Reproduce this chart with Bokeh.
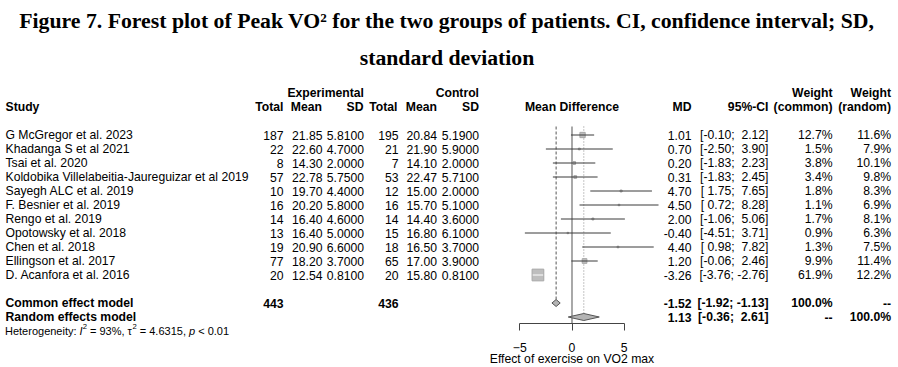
import math
from bokeh.plotting import figure
from bokeh.models import Range1d, LinearAxis, FixedTicker
from bokeh.core.properties import value
from bokeh.embed import file_html
from bokeh.resources import INLINE

# ---------------- data ----------------
title_lines = [
    "Figure 7. Forest plot of Peak VO\u00b2 for the two groups of patients. CI, confidence interval; SD,",
    "standard deviation",
]
studies = [
    "G McGregor et al. 2023",
    "Khadanga S et al 2021",
    "Tsai et al. 2020",
    "Koldobika Villelabeitia-Jaureguizar et al 2019",
    "Sayegh ALC et al. 2019",
    "F. Besnier et al. 2019",
    "Rengo et al. 2019",
    "Opotowsky et al. 2018",
    "Chen et al. 2018",
    "Ellingson et al. 2017",
    "D. Acanfora et al. 2016",
]
exp_n = [187, 22, 8, 57, 10, 16, 14, 13, 19, 77, 20]
exp_mean = [21.85, 22.60, 14.30, 22.78, 19.70, 20.20, 16.40, 16.40, 20.90, 18.20, 12.54]
exp_sd = [5.81, 4.70, 2.00, 5.75, 4.40, 5.80, 4.60, 5.00, 6.60, 3.70, 0.81]
ctl_n = [195, 21, 7, 53, 12, 16, 14, 15, 18, 65, 20]
ctl_mean = [20.84, 21.90, 14.10, 22.47, 15.00, 15.70, 14.40, 16.80, 16.50, 17.00, 15.80]
ctl_sd = [5.19, 5.90, 2.00, 5.71, 2.00, 5.10, 3.60, 6.10, 3.70, 3.90, 0.81]
md = [1.01, 0.70, 0.20, 0.31, 4.70, 4.50, 2.00, -0.40, 4.40, 1.20, -3.26]
ci_lo = [-0.10, -2.50, -1.83, -1.83, 1.75, 0.72, -1.06, -4.51, 0.98, -0.06, -3.76]
ci_hi = [2.12, 3.90, 2.23, 2.45, 7.65, 8.28, 5.06, 3.71, 7.82, 2.46, -2.76]
w_common = [12.7, 1.5, 3.8, 3.4, 1.8, 1.1, 1.7, 0.9, 1.3, 9.9, 61.9]
w_random = [11.6, 7.9, 10.1, 9.8, 8.3, 6.9, 8.1, 6.3, 7.5, 11.4, 12.2]
model_names = ["Common effect model", "Random effects model"]
model_md = [-1.52, 1.13]
model_lo = [-1.92, -0.36]
model_hi = [-1.13, 2.61]
model_w_common = ["100.0%", "--"]
model_w_random = ["--", "100.0%"]
total_exp = 443
total_ctl = 436
het_i2 = "93%"
het_tau2 = "4.6315"
het_p = "< 0.01"
ticks = [-5, 0, 5]
axis_label = "Effect of exercise on VO2 max"

# ---------------- layout ----------------
W, H = 898, 367
ZERO_PX, PX_PER_UNIT = 571.5, 10.45
ROW0_PX, ROW_PX = 134.5, 14.0


def row_of(ypx):
    return (ypx - ROW0_PX) / ROW_PX


p = figure(width=W, height=H,
           x_range=Range1d((0 - ZERO_PX) / PX_PER_UNIT, (W - ZERO_PX) / PX_PER_UNIT),
           y_range=Range1d(row_of(H), row_of(0)),
           x_axis_type=None, y_axis_type=None,
           output_backend="svg", toolbar_location=None,
           min_border=0, outline_line_color=None)
p.extra_x_ranges = {"px": Range1d(0, W)}
p.background_fill_color = "white"
p.border_fill_color = "white"

SANS = value("Liberation Sans")
SERIF = value("Liberation Serif")
FS = "12.2px"


def txt(xs, ys, texts, align="left", style="normal", size=FS, font=SANS):
    p.text(x=xs, y=ys, text=texts, x_range_name="px", text_align=align,
           text_baseline="middle", text_font=font, text_font_size=size,
           text_font_style=style, text_color="black")


n = len(studies)
rows = list(range(n))

# title
txt([446.5], [row_of(20)], [title_lines[0]], "center", "bold", "21.75px", SERIF)
txt([446.5], [row_of(57)], [title_lines[1]], "center", "bold", "21.75px", SERIF)

# headers
h1, h2 = -3, -2
txt([363.5, 478.5], [h1, h1], ["Experimental", "Control"], "right", "bold")
txt([832, 890.5], [h1, h1], ["Weight", "Weight"], "right", "bold")
txt([5], [h2], ["Study"], "left", "bold")
txt([283, 321.5, 363, 397, 436.5, 478.5, 691, 768, 832, 890.5], [h2] * 10,
    ["Total", "Mean", "SD", "Total", "Mean", "SD", "MD", "95%-CI", "(common)", "(random)"],
    "right", "bold")
txt([571.5], [h2], ["Mean Difference"], "center", "bold")


def ci_str(a, b):
    return ("[" + f"{a:5.2f}".replace(" ", "\u00a0") + ";\u00a0"
            + f"{b:5.2f}".replace(" ", "\u00a0") + "]")


# study rows
txt([5] * n, rows, studies)
txt([283] * n, rows, [str(v) for v in exp_n], "right")
txt([322] * n, rows, [f"{v:.2f}" for v in exp_mean], "right")
txt([363.5] * n, rows, [f"{v:.4f}" for v in exp_sd], "right")
txt([398] * n, rows, [str(v) for v in ctl_n], "right")
txt([436.5] * n, rows, [f"{v:.2f}" for v in ctl_mean], "right")
txt([478.5] * n, rows, [f"{v:.4f}" for v in ctl_sd], "right")
txt([691] * n, rows, [f"{v:.2f}" for v in md], "right")
txt([768] * n, rows, [ci_str(a, b) for a, b in zip(ci_lo, ci_hi)], "right")
txt([832] * n, rows, [f"{v:.1f}%" for v in w_common], "right")
txt([890.5] * n, rows, [f"{v:.1f}%" for v in w_random], "right")

# model rows
mrows = [n + 1, n + 2]
txt([5, 5], mrows, model_names, "left", "bold")
txt([283, 398], [mrows[0]] * 2, [str(total_exp), str(total_ctl)], "right", "bold")
txt([691] * 2, mrows, [f"{v:.2f}" for v in model_md], "right", "bold")
txt([768] * 2, mrows, [ci_str(a, b) for a, b in zip(model_lo, model_hi)], "right", "bold")
txt([832] * 2, mrows, model_w_common, "right", "bold")
txt([890.5] * 2, mrows, model_w_random, "right", "bold")

# heterogeneity line (pieces placed with Arial/Liberation Sans advance widths)
AW = {" ": 278, "H": 722, "e": 556, "t": 278, "r": 333, "o": 556, "g": 556, "n": 556,
      "i": 222, "y": 500, ":": 278, "I": 278, "=": 584, "%": 889, ",": 278, ".": 278,
      "\u03c4": 440, "p": 556, "<": 584}
for d in "0123456789":
    AW[d] = 556


def width(s, size):
    return sum(AW.get(c, 556) for c in s) * size / 1000.0


HS = 11.0
SS = 7.7
hr = n + 3
pieces = [("Heterogeneity: ", "normal", HS, 0), ("I", "italic", HS, 0), ("2", "normal", SS, 1),
          (" = " + het_i2 + ", \u03c4", "normal", HS, 0), ("2", "normal", SS, 1),
          (" = " + het_tau2 + ", ", "normal", HS, 0), ("p", "italic", HS, 0),
          (" " + het_p, "normal", HS, 0)]
cx = 4.5
for s, st, sz, is_sup in pieces:
    lead = len(s) - len(s.lstrip(" "))
    x0 = cx + width(s[:lead], sz)
    yy = hr - 0.3 if is_sup else hr
    txt([x0], [yy], [s.strip(" ")], "left", st, f"{sz}px")
    cx += width(s, sz)

# ---------------- forest ----------------
AXIS_ROW = row_of(322.7)
TOP_ROW = row_of(126)
DH = 0.25
px_unit = PX_PER_UNIT

# reference lines
p.segment(x0=[0], y0=[TOP_ROW], x1=[0], y1=[AXIS_ROW], line_color="#7a7a7a", line_width=1.3)
p.segment(x0=[model_md[0]], y0=[TOP_ROW], x1=[model_md[0]], y1=[mrows[0] - DH],
          line_color="#555555", line_width=1, line_dash="3 2")
p.segment(x0=[model_md[1]], y0=[TOP_ROW], x1=[model_md[1]], y1=[mrows[1] - DH],
          line_color="#8a8a8a", line_width=1, line_dash="1 2")

sizes = [1.49 * math.sqrt(w) for w in w_common]
p.scatter(x=md, y=rows, marker="square", size=sizes, fill_color="#bebebe", line_color="#a8a8a8")
line_cols = ["white" if (b - a) * px_unit < s else "#3a3a3a" for a, b, s in zip(ci_lo, ci_hi, sizes)]
p.segment(x0=ci_lo, y0=rows, x1=ci_hi, y1=rows, line_color=line_cols, line_width=1)

# diamonds
xs = [[lo, m, hi, m] for lo, m, hi in zip(model_lo, model_md, model_hi)]
ys = [[r, r - DH, r, r + DH] for r in mrows]
p.patches(xs=xs, ys=ys, fill_color="#b4b4b4", line_color="#555555", line_width=1)

# axis
axis = LinearAxis(fixed_location=AXIS_ROW, bounds=(min(ticks), max(ticks)),
                  ticker=FixedTicker(ticks=ticks), axis_label=axis_label)
axis.minor_tick_line_color = None
axis.major_tick_out = 7
axis.major_tick_in = 0
axis.axis_line_color = "#444444"
axis.major_tick_line_color = "#444444"
axis.major_label_standoff = 13
axis.major_label_text_font = "Liberation Sans"
axis.major_label_text_font_size = FS
axis.major_label_text_color = "black"
axis.axis_label_text_font = "Liberation Sans"
axis.axis_label_text_font_size = FS
axis.axis_label_text_font_style = "normal"
axis.axis_label_text_color = "black"
axis.axis_label_standoff = -4
p.add_layout(axis, "below")

open("out.html", "w").write(file_html(p, INLINE))
